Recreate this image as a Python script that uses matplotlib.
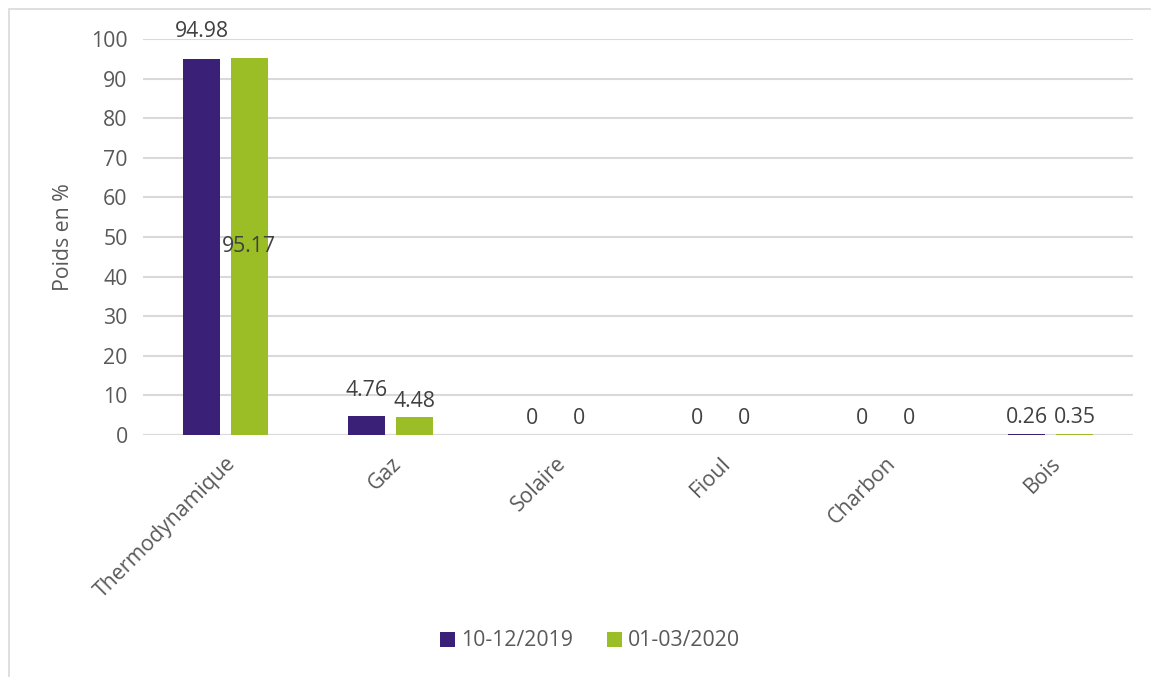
import numpy as np
import matplotlib.pyplot as plt
from matplotlib.patches import Rectangle

# Data

CATEGORIES = ["Thermodynamique", "Gaz", "Solaire", "Fioul", "Charbon", "Bois"]
SERIES_NAMES = ["10-12/2019", "01-03/2020"]
VALUES_2019 = [94.98, 4.76, 0, 0, 0, 0.26]
VALUES_2020 = [95.17, 4.48, 0, 0, 0, 0.35]
LABELS_2019 = ["94.98", "4.76", "0", "0", "0", "0.26"]
LABELS_2020 = ["95.17", "4.48", "0", "0", "0", "0.35"]

# Style

PURPLE = "#3b2077"
GREEN = "#9bbd25"
TEXT = "#595959"
GRID = "#d9d9d9"
FS = 15.3
plt.rcParams["font.family"] = ["Open Sans", "DejaVu Sans"]

fig = plt.figure(figsize=(11.51, 6.77), dpi=100)
ax = fig.add_axes([143 / 1151, 1 - 435 / 677, 990 / 1151, 396 / 677])

# chart frame
fig.patches.append(
    Rectangle((9 / 1151, -0.1), 1.2, 1 - 9 / 677 + 0.1, transform=fig.transFigure,
              fill=False, edgecolor="#d9d9d9", linewidth=1.2)
)

x = np.arange(len(CATEGORIES))
width = 0.225
offset = 0.145

ax.bar(x - offset, VALUES_2019, width, color=PURPLE, label=SERIES_NAMES[0])
ax.bar(x + offset, VALUES_2020, width, color=GREEN, label=SERIES_NAMES[1])

# data labels (offsets in points, as placed in the original)
label_shift_a = [12, 11, 4, 4, 4, 4]
label_shift_b = [-143, 4, 4, 4, 4, 4]
for i in range(len(CATEGORIES)):
    ax.annotate(LABELS_2019[i], (x[i] - offset, VALUES_2019[i]),
                xytext=(0, label_shift_a[i]), textcoords="offset points",
                ha="center", va="bottom", fontsize=FS, color="#404040")
    ax.annotate(LABELS_2020[i], (x[i] + offset, VALUES_2020[i]),
                xytext=(0, label_shift_b[i]), textcoords="offset points",
                ha="center", va="bottom", fontsize=FS, color="#404040")

ax.set_xlim(-0.5, len(CATEGORIES) - 0.5)
ax.set_ylim(0, 100)
ax.set_yticks(range(0, 101, 10))
ax.yaxis.grid(True, color=GRID, linewidth=1.5)
ax.set_axisbelow(True)
for spine in ax.spines.values():
    spine.set_visible(False)
ax.axhline(0, color=GRID, linewidth=1.5, zorder=0)

ax.tick_params(axis="both", length=0, labelsize=FS, labelcolor=TEXT, pad=11)
ax.set_xticks(x)
ax.set_xticklabels(CATEGORIES, rotation=45, ha="right", rotation_mode="anchor")
ax.tick_params(axis="x", pad=13)
ax.set_ylabel("Poids en %", fontsize=FS, color=TEXT, labelpad=12)

fig.legend(loc="center", bbox_to_anchor=(590 / 1151, 1 - 641 / 677), ncol=2,
           frameon=False, fontsize=FS, labelcolor=TEXT, handlelength=0.7,
           handleheight=0.7, handletextpad=0.3, columnspacing=1.6)

fig.savefig("out.png", dpi=100)
